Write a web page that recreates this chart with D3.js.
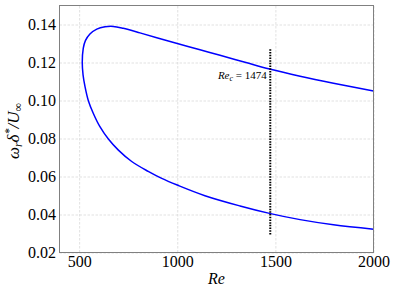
<!DOCTYPE html>
<html>
<head>
<meta charset="utf-8">
<script src="https://cdn.jsdelivr.net/npm/d3@7"></script>
<style>
  body { margin: 0; background: #fff; }
  svg text { font-family: "Liberation Serif", "DejaVu Serif", serif; }
</style>
</head>
<body>
<svg id="chart" width="393" height="289"></svg>
<script>
// neutral curve, traced from the lower branch end round the nose to the upper branch end
let reVals = [2000, 1796, 1626, 1470, 1320, 1141, 1000, 921, 852, 768, 700, 649, 606, 572, 547, 530, 520,
              516, 521, 532, 555, 590, 632, 674, 725, 810, 900, 1000, 1116, 1218, 1350, 1470, 1626, 1796, 2000]
let omegaVals = [0.0323, 0.0346, 0.0373, 0.0406, 0.0445, 0.0499, 0.0555, 0.0590, 0.0627, 0.0679, 0.0739, 0.0797, 0.0862, 0.0933, 0.0999, 0.1073, 0.1135,
                 0.1200, 0.1274, 0.1315, 0.1350, 0.1376, 0.1388, 0.1390, 0.1380, 0.1356, 0.1329, 0.1300, 0.1267, 0.1238, 0.1200, 0.1166, 0.1128, 0.1091, 0.1050]

let xTicks = [500, 1000, 1500, 2000]
let yTicks = [0.02, 0.04, 0.06, 0.08, 0.10, 0.12, 0.14]

let reCrit = 1474
let critSpan = [0.0295, 0.127]

let svg = d3.select("#chart")
let m = {left: 59.5, right: 373.5, top: 5.5, bottom: 252.5}

let x = d3.scaleLinear().domain([400, 2000]).range([m.left, m.right])
let y = d3.scaleLinear().domain([0.02, 0.15]).range([m.bottom, m.top])

// grid + tick labels
let xAxis = d3.axisBottom(x).tickValues(xTicks).tickSize(-(m.bottom - m.top)).tickFormat(d3.format("d"))
let yAxis = d3.axisLeft(y).tickValues(yTicks).tickSize(-(m.right - m.left)).tickFormat(d3.format(".2f"))

let gx = svg.append("g").attr("transform", `translate(0,${m.bottom})`).call(xAxis)
let gy = svg.append("g").attr("transform", `translate(${m.left},0)`).call(yAxis)

;[gx, gy].forEach(function(g) {
  g.attr("font-family", null).attr("font-size", null)
  g.select(".domain").remove()
  g.selectAll(".tick line")
    .attr("stroke", "#d9d9d9")
    .attr("stroke-width", 0.8)
    .attr("stroke-dasharray", "2.5,1.5")
  g.selectAll(".tick text")
    .style("font-family", "'Liberation Serif'")
    .style("font-size", "16px")
    .attr("fill", "#000")
})
gx.selectAll(".tick text").attr("dy", null).attr("y", 14.5)
gy.selectAll(".tick text").attr("x", -3.5).attr("dy", "0.33em")

// curve
let pts = reVals.map((r, i) => [r, omegaVals[i]])
let line = d3.line().x(d => x(d[0])).y(d => y(d[1])).curve(d3.curveCatmullRom.alpha(0.5))
svg.append("path")
  .datum(pts)
  .attr("d", line)
  .attr("fill", "none")
  .attr("stroke", "#0000ff")
  .attr("stroke-width", 1.5)

// critical Re marker
svg.append("line")
  .attr("x1", x(reCrit)).attr("x2", x(reCrit))
  .attr("y1", y(critSpan[0])).attr("y2", y(critSpan[1]))
  .attr("stroke", "#000")
  .attr("stroke-width", 2)
  .attr("stroke-dasharray", "1.5,1.2")

let lab = svg.append("text")
  .attr("x", x(reCrit) - 3.5)
  .attr("y", y(0.1113))
  .attr("text-anchor", "end")
  .style("font-size", "11px")
lab.append("tspan").attr("font-style", "italic").text("Re")
lab.append("tspan").attr("font-style", "italic").style("font-size", "8px").attr("dy", 2).text("c")
lab.append("tspan").attr("dy", -2).text(" = " + reCrit)

// frame
svg.append("rect")
  .attr("x", m.left).attr("y", m.top)
  .attr("width", m.right - m.left).attr("height", m.bottom - m.top)
  .attr("fill", "none")
  .attr("stroke", "#808080")
  .attr("stroke-width", 1)

// axis labels
svg.append("text")
  .attr("x", (m.left + m.right) / 2)
  .attr("y", 284)
  .attr("text-anchor", "middle")
  .style("font-size", "16px")
  .attr("font-style", "italic")
  .text("Re")

let yl = svg.append("text")
  .attr("transform", `translate(19,${(m.top + m.bottom) / 2 + 2}) rotate(-90)`)
  .attr("text-anchor", "middle")
  .style("font-size", "17px")
  .attr("font-style", "italic")
yl.append("tspan").text("ω")
yl.append("tspan").style("font-size", "12px").attr("dy", 3).text("r")
yl.append("tspan").attr("dy", -3).text("δ")
yl.append("tspan").style("font-size", "12px").attr("dy", -6).text("*")
yl.append("tspan").attr("dy", 6).text("/U")
yl.append("tspan").style("font-size", "12px").attr("dy", 3).attr("font-style", "normal").text("∞")
</script>
</body>
</html>
